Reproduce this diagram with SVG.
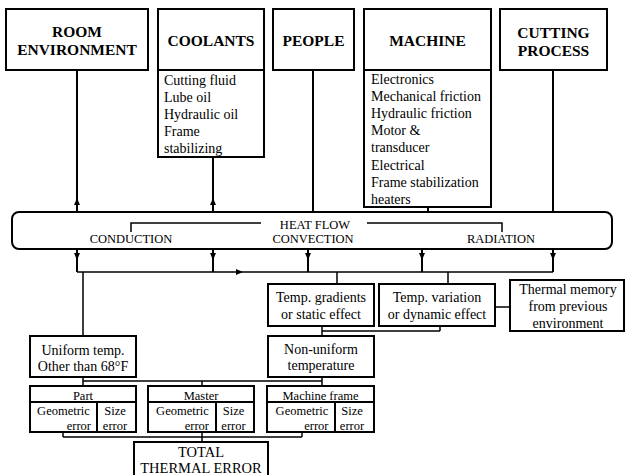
<svg xmlns="http://www.w3.org/2000/svg" width="626" height="475" viewBox="0 0 626 475">
<style>
.box{fill:#fff;stroke:#000;stroke-width:2}
.ln{fill:none;stroke:#000;stroke-width:2}
.thin{fill:none;stroke:#000;stroke-width:1.5}
.h{font-family:'Liberation Serif','Times New Roman',serif;font-weight:bold;font-size:15.5px;text-anchor:middle;fill:#000}
.t{font-family:'Liberation Serif','Times New Roman',serif;font-size:14px;fill:#000}
.c{text-anchor:middle}
.e{text-anchor:end}
.s{font-size:12.5px}
.m{font-size:14.5px}
</style>
<defs>
<path id="ad" d="M-3,-7 L3,-7 L0,0 Z"/>
</defs>
<rect x="0" y="0" width="626" height="475" fill="#fff"/>

<g id="connectors">
<path class="ln" d="M77,70 V212 M213,157 V212 M313,70 V212 M428,207 V212 M553,70 V212"/>
<use href="#ad" transform="translate(77,198) rotate(180)"/>
<use href="#ad" transform="translate(213,198) rotate(180)"/>
<path class="ln" d="M77,249 V272 M213,249 V272 M308,249 V272 M422,249 V272 M553,249 V272"/>
<use href="#ad" x="77" y="260"/>
<use href="#ad" x="213" y="260"/>
<use href="#ad" x="308" y="260"/>
<use href="#ad" x="422" y="260"/>
<use href="#ad" x="553" y="260"/>
<path class="thin" d="M77,272 H553 M83,272 V336 M337,272 V284 M448,272 V284"/>
<use href="#ad" transform="translate(243,272) rotate(-90)"/>
<path class="thin" d="M495,307 H510"/>
<path class="thin" d="M322,326 V336 M440,326 V331 M322,331 H440"/>
<path class="thin" d="M83,377 V386 M322,377 V386 M83,381 H322 M202,381 V386"/>
<path class="thin" d="M63,432 V437 M302,432 V437 M63,437 H302 M202,432 V442"/>
</g>

<g id="room-environment">
<rect class="box" x="6" y="9" width="142" height="61"/>
<text class="h" x="77" y="36.5">ROOM</text>
<text class="h" x="77" y="55">ENVIRONMENT</text>
</g>

<g id="coolants">
<rect class="box" x="158" y="9" width="106" height="61"/>
<rect class="box" x="158" y="70" width="106" height="87"/>
<text class="h" x="211" y="45.5">COOLANTS</text>
<text class="t" x="164" y="84.5">Cutting fluid</text>
<text class="t" x="164" y="101.5">Lube oil</text>
<text class="t" x="164" y="118.5">Hydraulic oil</text>
<text class="t" x="164" y="135.5">Frame</text>
<text class="t" x="164" y="152.5">stabilizing</text>
</g>

<g id="people">
<rect class="box" x="273" y="9" width="81" height="61"/>
<text class="h" x="313.5" y="45.5">PEOPLE</text>
</g>

<g id="machine">
<rect class="box" x="364" y="9" width="127" height="61"/>
<rect class="box" x="364" y="70" width="127" height="137"/>
<text class="h" x="427.5" y="45.5">MACHINE</text>
<text class="t" x="371" y="83.5">Electronics</text>
<text class="t" x="371" y="100.7">Mechanical friction</text>
<text class="t" x="371" y="117.9">Hydraulic friction</text>
<text class="t" x="371" y="135.1">Motor &amp;</text>
<text class="t" x="371" y="152.3">transducer</text>
<text class="t" x="371" y="169.5">Electrical</text>
<text class="t" x="371" y="186.7">Frame stabilization</text>
<text class="t" x="371" y="203.9">heaters</text>
</g>

<g id="cutting-process">
<rect class="box" x="500" y="9" width="107" height="61"/>
<text class="h" x="553.5" y="37.5">CUTTING</text>
<text class="h" x="553.5" y="56">PROCESS</text>
</g>

<g id="heat-flow">
<rect class="box" x="12" y="212" width="600" height="37" rx="7"/>
<text class="t s c" x="315" y="229">HEAT FLOW</text>
<text class="t s c" x="131" y="243">CONDUCTION</text>
<text class="t s c" x="313" y="243">CONVECTION</text>
<text class="t s c" x="501" y="243">RADIATION</text>
<path class="thin" d="M131,232 V223 H261 M367,223 H502 V232"/>
</g>

<g id="temp-gradients">
<rect class="box" x="268" y="284" width="106" height="42"/>
<text class="t c" x="321" y="302">Temp. gradients</text>
<text class="t c" x="321" y="319">or static effect</text>
</g>

<g id="temp-variation">
<rect class="box" x="379" y="284" width="116" height="42"/>
<text class="t c" x="437" y="302">Temp. variation</text>
<text class="t c" x="437" y="319">or dynamic effect</text>
</g>

<g id="thermal-memory">
<rect class="box" x="510" y="280" width="114" height="51"/>
<text class="t c" x="568" y="294">Thermal memory</text>
<text class="t c" x="568" y="311">from previous</text>
<text class="t c" x="568" y="328">environment</text>
</g>

<g id="uniform-temp">
<rect class="box" x="30" y="336" width="106" height="41"/>
<text class="t c" x="83" y="354.5">Uniform temp.</text>
<text class="t c" x="83" y="371">Other than 68°F</text>
</g>

<g id="non-uniform-temp">
<rect class="box" x="268" y="336" width="106" height="41"/>
<text class="t c" x="321" y="353.5">Non-uniform</text>
<text class="t c" x="321" y="370">temperature</text>
</g>

<g id="part">
<rect class="box" x="30" y="386" width="106" height="46"/>
<path class="ln" d="M30,402 H136 M97,402 V432"/>
<text class="t s c" x="83" y="399.5">Part</text>
<text class="t s c" x="63.5" y="415">Geometric</text>
<text class="t s e" x="91" y="430">error</text>
<text class="t s c" x="115" y="415">Size</text>
<text class="t s c" x="115" y="430">error</text>
</g>

<g id="master">
<rect class="box" x="148" y="386" width="106" height="46"/>
<path class="ln" d="M148,402 H254 M216,402 V432"/>
<text class="t s c" x="201" y="399.5">Master</text>
<text class="t s c" x="182.5" y="415">Geometric</text>
<text class="t s e" x="209" y="430">error</text>
<text class="t s c" x="233.5" y="415">Size</text>
<text class="t s c" x="233.5" y="430">error</text>
</g>

<g id="machine-frame">
<rect class="box" x="267" y="386" width="107" height="46"/>
<path class="ln" d="M267,402 H374 M335,402 V432"/>
<text class="t s c" x="320.5" y="399.5">Machine frame</text>
<text class="t s c" x="302" y="415">Geometric</text>
<text class="t s e" x="328.5" y="430">error</text>
<text class="t s c" x="352" y="415">Size</text>
<text class="t s c" x="352" y="430">error</text>
</g>

<g id="total-thermal-error">
<rect class="box" x="134" y="442" width="134" height="40"/>
<text class="t m c" x="201" y="457">TOTAL</text>
<text class="t m c" x="201" y="473">THERMAL ERROR</text>
</g>
</svg>
